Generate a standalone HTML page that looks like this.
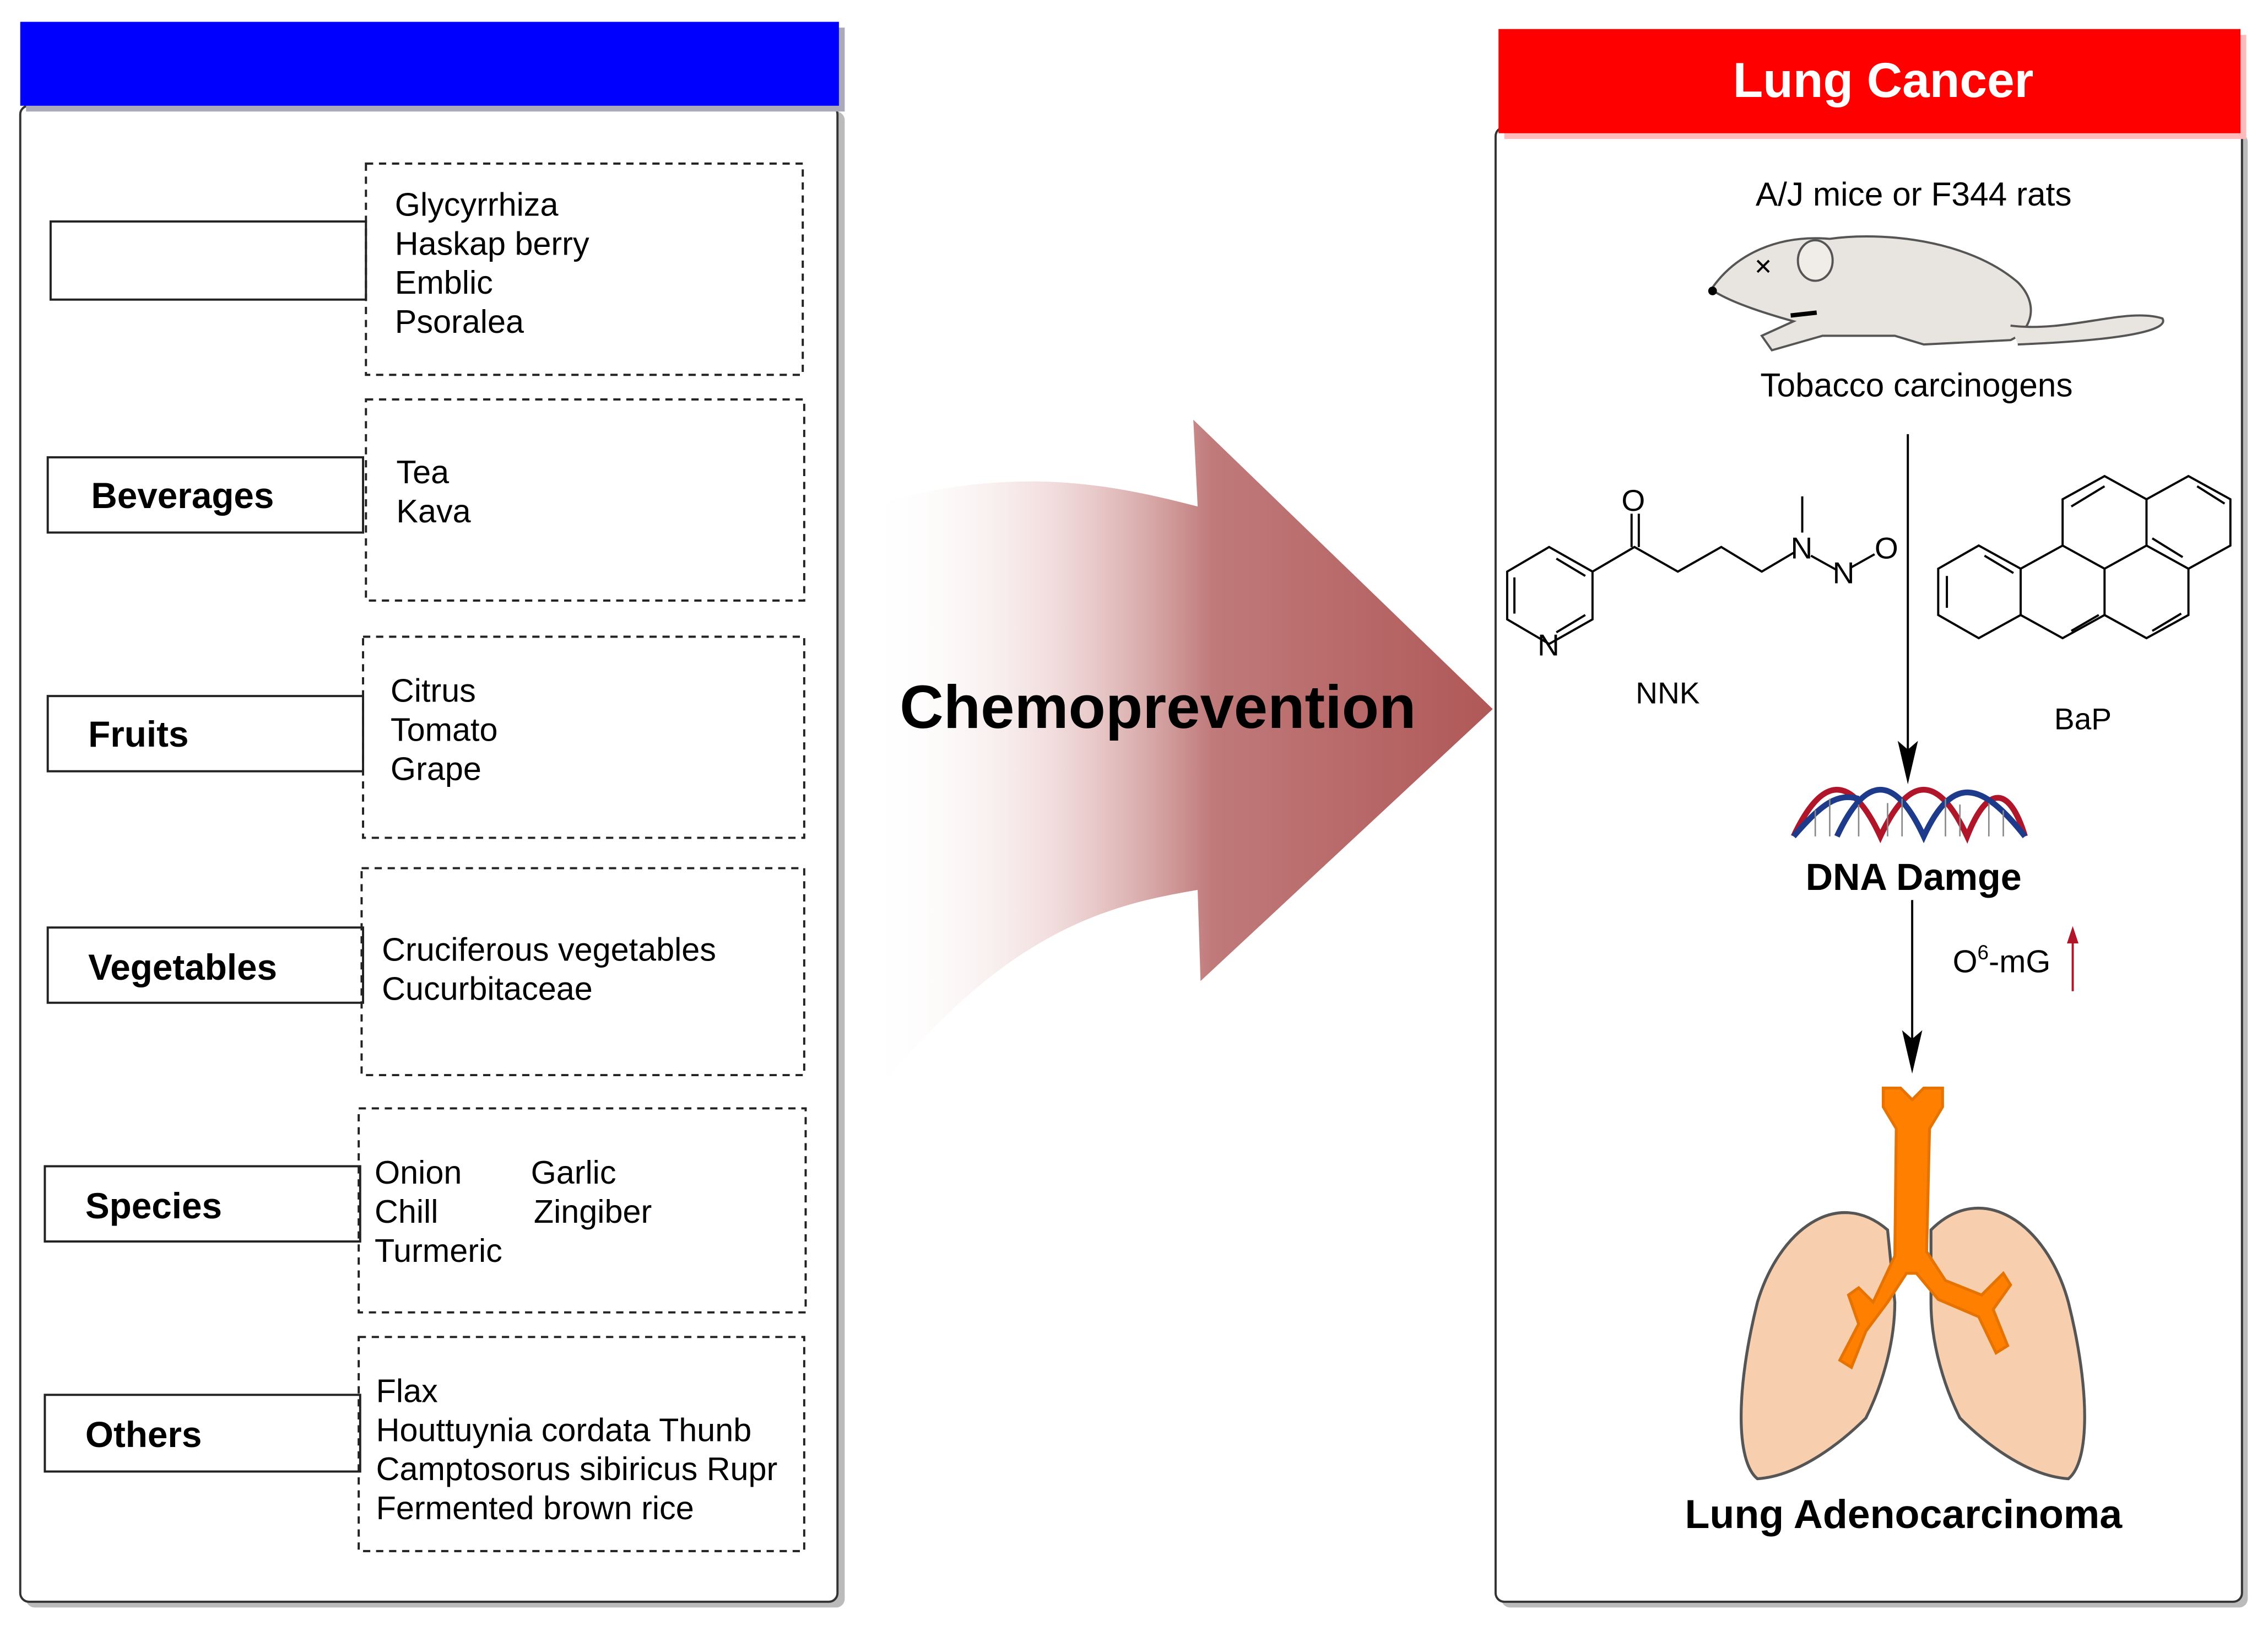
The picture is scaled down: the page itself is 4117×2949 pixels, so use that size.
<!DOCTYPE html>
<html><head><meta charset="utf-8"><style>
html,body{margin:0;padding:0;background:#fff;}
svg{display:block;}
text{font-family:"Liberation Sans",Arial,sans-serif;}
</style></head><body>
<svg width="4117" height="2949" viewBox="0 0 1568 1123" xmlns="http://www.w3.org/2000/svg">
<defs>
<linearGradient id="ag" x1="0" y1="0" x2="1" y2="0">
<stop offset="0" stop-color="#fff" stop-opacity="0"/>
<stop offset="0.3" stop-color="#e8c4c4" stop-opacity="0.6"/>
<stop offset="0.55" stop-color="#c07a7a"/>
<stop offset="1" stop-color="#b05858"/>
</linearGradient>
</defs>
<rect x="18" y="77" width="566" height="1034" rx="6" fill="#bbb"/>
<rect x="14" y="73" width="565" height="1034" rx="6" fill="#fff" stroke="#333" stroke-width="1.5"/>
<rect x="18" y="19" width="566" height="58" fill="#aab"/>
<rect x="14" y="15" width="566" height="58" fill="#0000ff"/>
<g fill="#fff" stroke="#222" stroke-width="1.5">
<rect x="35" y="153" width="218" height="54"/>
<rect x="33" y="316" width="218" height="52"/>
<rect x="33" y="481" width="218" height="52"/>
<rect x="33" y="641" width="218" height="52"/>
<rect x="31" y="806" width="218" height="52"/>
<rect x="31" y="964" width="218" height="53"/>
</g>
<g fill="none" stroke="#222" stroke-width="1.5" stroke-dasharray="5,4">
<rect x="253" y="113" width="302" height="146"/>
<rect x="253" y="276" width="303" height="139"/>
<rect x="251" y="440" width="305" height="139"/>
<rect x="250" y="600" width="306" height="143"/>
<rect x="248" y="766" width="309" height="141"/>
<rect x="248" y="924" width="308" height="148"/>
</g>
<g font-weight="bold" font-size="25" fill="#000">
<text x="63" y="351">Beverages</text>
<text x="61" y="516">Fruits</text>
<text x="61" y="677">Vegetables</text>
<text x="59" y="842">Species</text>
<text x="59" y="1000">Others</text>
</g>
<g font-size="22.6" fill="#000">
<text x="273" y="149">Glycyrrhiza</text>
<text x="273" y="176">Haskap berry</text>
<text x="273" y="203">Emblic</text>
<text x="273" y="230">Psoralea</text>
<text x="274" y="334">Tea</text>
<text x="274" y="361">Kava</text>
<text x="270" y="485">Citrus</text>
<text x="270" y="512">Tomato</text>
<text x="270" y="539">Grape</text>
<text x="264" y="664">Cruciferous vegetables</text>
<text x="264" y="691">Cucurbitaceae</text>
<text x="259" y="818">Onion</text>
<text x="367" y="818">Garlic</text>
<text x="259" y="845">Chill</text>
<text x="369" y="845">Zingiber</text>
<text x="259" y="872">Turmeric</text>
<text x="260" y="969">Flax</text>
<text x="260" y="996">Houttuynia cordata Thunb</text>
<text x="260" y="1023">Camptosorus sibiricus Rupr</text>
<text x="260" y="1050">Fermented brown rice</text>
</g>
<path d="M600,350 C700,320 770,335 828,350 L825,290 L1032,490 L830,678 L828,615 C770,625 700,640 610,750 Z" fill="url(#ag)"/>
<text x="622" y="503" font-weight="bold" font-size="42" fill="#000">Chemoprevention</text>
<rect x="1038" y="92" width="516" height="1019" rx="6" fill="#bbb"/>
<rect x="1034" y="88" width="516" height="1019" rx="6" fill="#fff" stroke="#333" stroke-width="1.5"/>
<rect x="1040" y="24" width="513" height="72" fill="#fbb"/>
<rect x="1036" y="20" width="513" height="72" fill="#ff0000"/>
<text x="1302" y="67" text-anchor="middle" font-weight="bold" font-size="34" fill="#fff">Lung Cancer</text>
<text x="1323" y="142" text-anchor="middle" font-size="23">A/J mice or F344 rats</text>
<text x="1325" y="274" text-anchor="middle" font-size="23">Tobacco carcinogens</text>
<g stroke="#555" stroke-width="1.5" fill="#e8e4e0">
<path d="M1183,200 C1200,175 1230,162 1265,165 C1300,160 1360,165 1395,195 C1410,210 1405,228 1390,235 L1330,238 L1310,232 L1260,232 L1225,242 L1218,232 L1240,222 C1215,215 1195,208 1183,200 Z"/>
<path d="M1390,225 C1430,230 1470,212 1495,220 C1500,228 1470,235 1395,238" fill="#e8e4e0"/>
<ellipse cx="1255" cy="180" rx="12" ry="14" fill="#f0ede8"/>
</g>
<path d="M1215,180 l8,8 M1223,180 l-8,8" stroke="#000" stroke-width="1.5"/>
<circle cx="1184" cy="201" r="3" fill="#000"/>
<path d="M1238,218 l18,-2" stroke="#000" stroke-width="3"/>
<g stroke="#000" stroke-width="1.5" fill="none">
<path d="M1071,378 L1101,395 L1101,428 L1071,445 L1042,428 L1042,395 Z"/>
<path d="M1076,386 L1096,398 M1096,425 L1076,437 M1047,424 L1047,399"/>
<path d="M1101,395 L1130,378 L1160,395 L1190,378 L1218,395 L1240,382"/>
<path d="M1128,378 L1128,355 M1133,378 L1133,355"/>
<path d="M1246,368 L1246,343 M1252,384 L1270,394 M1280,392 L1296,383"/>
</g>
<g font-size="21" fill="#000">
<text x="1063" y="453">N</text>
<text x="1121" y="353">O</text>
<text x="1238" y="386">N</text>
<text x="1267" y="403">N</text>
<text x="1296" y="386">O</text>
<text x="1153" y="486" text-anchor="middle">NNK</text>
<text x="1440" y="504" text-anchor="middle">BaP</text>
</g>
<g stroke="#000" stroke-width="1.5" fill="none">
<path d="M1340,393 L1368,377 L1397,393 L1397,425 L1368,441 L1340,425 Z"/>
<path d="M1397,393 L1426,377 L1455,393 L1455,425 L1426,441 L1397,425"/>
<path d="M1426,377 L1426,345 L1455,329 L1484,345 L1484,377 L1455,393"/>
<path d="M1484,345 L1513,329 L1542,345 L1542,377 L1513,393 L1484,377"/>
<path d="M1513,393 L1513,425 L1484,441 L1455,425"/>
<path d="M1346,398 L1346,420 M1372,384 L1392,396 M1432,436 L1451,425 M1432,350 L1455,336 M1519,336 L1538,348 M1488,436 L1508,424 M1488,372 L1509,385"/>
</g>
<line x1="1319" y1="300" x2="1319" y2="520" stroke="#000" stroke-width="1.5"/>
<path d="M1312,512 L1319,542 L1326,512 L1319,518 Z" fill="#000"/>
<g fill="none" stroke-width="4">
<path d="M1240,578 C1260,535 1280,535 1300,578 C1320,535 1340,535 1360,578 C1375,540 1390,545 1400,578" stroke="#b0152a"/>
<path d="M1240,578 C1260,555 1270,548 1285,552 M1270,578 C1290,535 1310,535 1330,578 C1350,535 1370,540 1400,578" stroke="#1e3a8a"/>
</g>
<g stroke="#888" stroke-width="1"><path d="M1255,560v18M1265,552v26M1285,556v22M1305,555v23M1315,552v26M1345,552v26M1355,556v22M1375,555v23M1385,560v18"/></g>
<text x="1323" y="615" text-anchor="middle" font-weight="bold" font-size="26">DNA Damge</text>
<line x1="1322" y1="622" x2="1322" y2="720" stroke="#000" stroke-width="1.5"/>
<path d="M1315,712 L1322,742 L1329,712 L1322,718 Z" fill="#000"/>
<text x="1350" y="672" font-size="22">O<tspan font-size="14" dy="-9">6</tspan><tspan dy="9">-mG</tspan></text>
<line x1="1433" y1="685" x2="1433" y2="648" stroke="#b0152a" stroke-width="1.5"/>
<path d="M1429,652 L1433,640 L1437,652 Z" fill="#b0152a"/>
<g stroke="#555" stroke-width="2" fill="#f8cfae">
<path d="M1305,850 C1270,820 1230,850 1215,900 C1200,960 1200,1010 1215,1022 C1245,1020 1275,995 1290,980 C1300,960 1310,930 1310,900 Z"/>
<path d="M1335,850 C1370,815 1415,845 1430,900 C1445,960 1445,1010 1430,1022 C1400,1020 1370,995 1355,980 C1345,960 1335,930 1335,900 Z"/>
</g>
<g stroke="#e67300" fill="#ff8000" stroke-width="2">
<path d="M1302,752 L1314,752 L1322,760 L1330,752 L1343,752 L1343,765 L1334,780 L1332,865 L1345,885 L1370,895 L1385,880 L1390,888 L1378,905 L1388,930 L1380,935 L1368,910 L1340,898 L1325,880 L1318,880 L1305,900 L1290,920 L1280,945 L1272,940 L1285,915 L1278,895 L1285,890 L1295,900 L1310,868 L1311,780 L1302,765 Z"/>
</g>
<text x="1316" y="1056" text-anchor="middle" font-weight="bold" font-size="28">Lung Adenocarcinoma</text>
</svg>
</body></html>
